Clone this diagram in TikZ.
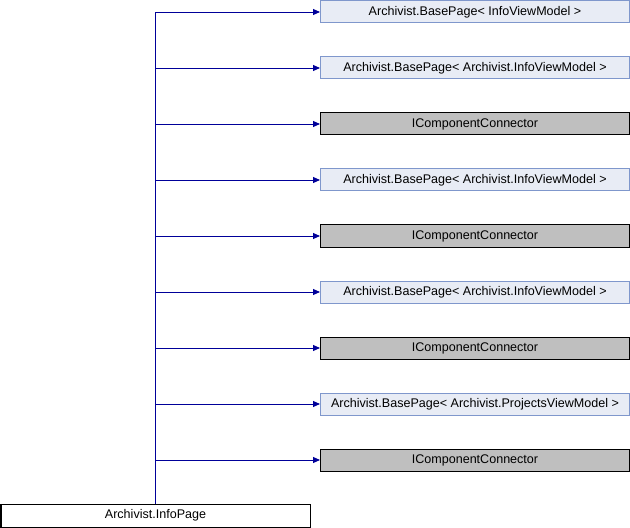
\documentclass[tikz,border=0pt]{standalone}
\usepackage{fontspec}
\setmainfont{Liberation Sans}
\usetikzlibrary{arrows.meta}
\definecolor{edgeblue}{HTML}{000099}
\definecolor{extfill}{HTML}{E8ECF5}
\definecolor{extdraw}{HTML}{7F97CC}
\definecolor{grayfill}{HTML}{BFBFBF}
\tikzset{
  base/.style={minimum width=309bp, minimum height=22bp, inner sep=0pt, font=\fontsize{12.6}{14}\selectfont, anchor=west},
  extbox/.style={base, draw=extdraw, fill=extfill, line width=1bp},
  graybox/.style={base, draw=black, fill=grayfill, line width=1bp},
  mainbox/.style={base, draw=black, fill=white, line width=1bp},
  inh/.style={draw=edgeblue, line width=0.9bp, -{Triangle[length=7bp,width=6bp,fill=edgeblue,color=edgeblue]}}
}
\begin{document}
\begin{tikzpicture}[x=1bp,y=-1bp]
\useasboundingbox (0,0) rectangle (630,528);
\node[extbox] (n1) at (320,12) {Archivist.BasePage< InfoViewModel >};
\node[extbox] (n2) at (320,68) {Archivist.BasePage< Archivist.InfoViewModel >};
\node[graybox] (n3) at (320,124) {IComponentConnector};
\node[extbox] (n4) at (320,180) {Archivist.BasePage< Archivist.InfoViewModel >};
\node[graybox] (n5) at (320,236) {IComponentConnector};
\node[extbox] (n6) at (320,292) {Archivist.BasePage< Archivist.InfoViewModel >};
\node[graybox] (n7) at (320,348) {IComponentConnector};
\node[extbox] (n8) at (320,404) {Archivist.BasePage< Archivist.ProjectsViewModel >};
\node[graybox] (n9) at (320,460) {IComponentConnector};
\node[mainbox, minimum height=23bp] (m) at (0.5,515.5) {Archivist.InfoPage};
\coordinate (top) at (155,12);
\draw[draw=edgeblue, line width=0.9bp] (m.north -| top) -- (top);
\foreach \i in {1,...,9} {
  \draw[inh] (n\i.west -| top) -- (n\i.west);
}
\end{tikzpicture}
\end{document}
